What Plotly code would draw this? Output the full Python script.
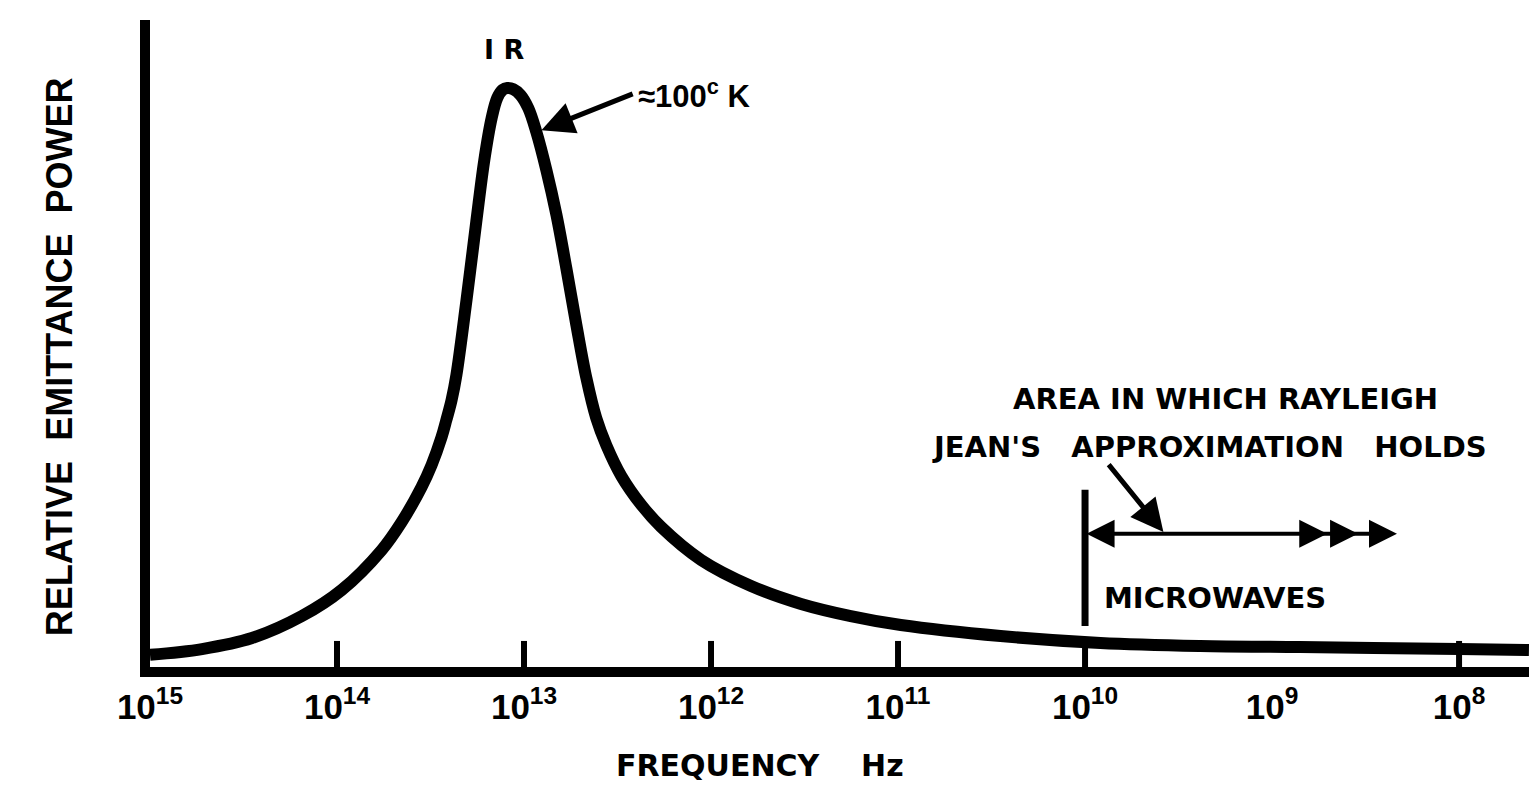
import plotly.graph_objects as go

# ---- data (frequency axis runs high -> low) ----
FREQ_HZ = [1.00e15, 5.27e14, 2.85e14, 1.54e14, 9.44e13, 5.77e13, 4.52e13, 3.53e13,
           3.12e13, 2.76e13, 2.60e13, 2.44e13, 2.30e13, 2.03e13, 1.80e13, 1.63e13,
           1.49e13, 1.39e13, 1.30e13, 1.23e13, 1.14e13, 1.045e13, 9.48e12, 8.59e12,
           7.59e12, 6.71e12, 5.94e12, 5.25e12, 4.64e12, 4.11e12, 3.63e12, 3.02e12,
           2.36e12, 1.85e12, 1.13e12, 6.11e11, 3.30e11, 1.79e11, 9.66e10, 2.83e10,
           8.27e9, 2.42e9, 7.07e8, 1.0e8, 4.23e7]
REL_POWER = [0.021, 0.031, 0.050, 0.088, 0.133, 0.202, 0.250, 0.311,
             0.349, 0.397, 0.427, 0.461, 0.504, 0.634, 0.769, 0.876,
             0.948, 0.983, 0.997, 1.000, 0.998, 0.988, 0.965, 0.924,
             0.858, 0.781, 0.689, 0.591, 0.499, 0.430, 0.383, 0.330,
             0.280, 0.242, 0.185, 0.140, 0.109, 0.088, 0.0725, 0.0535,
             0.0415, 0.0363, 0.0345, 0.0311, 0.0294]

TICK_VALS = [1e15, 1e14, 1e13, 1e12, 1e11, 1e10, 1e9, 1e8]
TICK_LABELS = ["10<sup>15</sup>", "10<sup>14</sup>", "10<sup>13</sup>", "10<sup>12</sup>",
               "10<sup>11</sup>", "10<sup>10</sup>", "10<sup>9</sup>", "10<sup>8</sup>"]
TICK_MARK_FREQS = [1e14, 1e13, 1e12, 1e11, 1e10, 1e8]
TICK_MARK_HEIGHT = 0.045

X_RANGE_LOG = [15.0, 7.626]
Y_RANGE = [0, 1.1175]

# Rayleigh-Jeans region markers
RJ_START_FREQ = 1e10
RJ_BAR_POWER = [0.071, 0.306]
RJ_ARROW_POWER = 0.230

FONT = "DejaVu Sans, Verdana, sans-serif"
FONT_NUM = "Liberation Sans, Arial, Helvetica, sans-serif"
BLACK = "#000000"

fig = go.Figure()

# blackbody curve
fig.add_trace(go.Scatter(
    x=FREQ_HZ, y=REL_POWER, mode="lines",
    line=dict(color=BLACK, width=12, shape="spline", smoothing=1.0),
    hoverinfo="skip", showlegend=False, cliponaxis=False))

# small decade tick bumps above the axis
tx, ty = [], []
for f in TICK_MARK_FREQS:
    tx += [f, f, None]
    ty += [0, TICK_MARK_HEIGHT, None]
fig.add_trace(go.Scatter(x=tx, y=ty, mode="lines",
                         line=dict(color=BLACK, width=6),
                         hoverinfo="skip", showlegend=False))

# vertical boundary at 10^10 Hz
fig.add_trace(go.Scatter(x=[RJ_START_FREQ, RJ_START_FREQ], y=RJ_BAR_POWER, mode="lines",
                         line=dict(color=BLACK, width=7),
                         hoverinfo="skip", showlegend=False))

annos = []
tfont = dict(family=FONT, size=29, color=BLACK, weight="bold")

annos.append(dict(x=13.105, y=1.066, xref="x", yref="y", text="I R", showarrow=False,
                  font=dict(family=FONT, size=27, color=BLACK, weight="bold")))
annos.append(dict(x=12.09, y=0.99, xref="x", yref="y", text="≈100<sup>c</sup> K",
                  showarrow=False, xanchor="center", yanchor="middle",
                  font=dict(family=FONT_NUM, size=31, color=BLACK, weight="bold")))
# arrow to the peak
annos.append(dict(x=12.907, y=0.927, ax=12.411, ay=0.991, xref="x", yref="y",
                  axref="x", ayref="y", text="", showarrow=True, arrowhead=2,
                  arrowwidth=5, arrowsize=1.3, arrowcolor=BLACK))

annos.append(dict(x=9.25, y=0.463, xref="x", yref="y", text="AREA IN WHICH RAYLEIGH",
                  showarrow=False, font=tfont))
annos.append(dict(x=9.335, y=0.380, xref="x", yref="y",
                  text="JEAN'S   APPROXIMATION   HOLDS", showarrow=False, font=tfont))
annos.append(dict(x=9.303, y=0.119, xref="x", yref="y", text="MICROWAVES",
                  showarrow=False, font=tfont))
# diagonal pointer
annos.append(dict(x=9.581, y=0.233, ax=9.880, ay=0.352, xref="x", yref="y",
                  axref="x", ayref="y", text="", showarrow=True, arrowhead=2,
                  arrowwidth=5, arrowsize=1.3, arrowcolor=BLACK))
# horizontal double arrow
annos.append(dict(x=8.332, y=RJ_ARROW_POWER, ax=10.0, ay=RJ_ARROW_POWER, xref="x", yref="y",
                  axref="x", ayref="y", text="", showarrow=True, arrowhead=2,
                  startarrowhead=2, arrowside="end+start",
                  arrowwidth=4, arrowsize=1.4, startarrowsize=1.4, arrowcolor=BLACK))
for tip in (8.705, 8.540):
    annos.append(dict(x=tip, y=RJ_ARROW_POWER, ax=tip + 0.1, ay=RJ_ARROW_POWER,
                      xref="x", yref="y", axref="x", ayref="y", text="", showarrow=True,
                      arrowhead=2, arrowwidth=4, arrowsize=1.4, arrowcolor=BLACK))

# axis titles
annos.append(dict(x=0.4424, y=-0.153, xref="paper", yref="paper", text="FREQUENCY    Hz",
                  showarrow=False, xanchor="center", yanchor="middle",
                  font=dict(family=FONT, size=30, color=BLACK, weight="bold")))
annos.append(dict(x=-0.0659, y=0.479, xref="paper", yref="paper",
                  text="RELATIVE  EMITTANCE  POWER", textangle=-90,
                  showarrow=False, xanchor="center", yanchor="middle",
                  font=dict(family=FONT_NUM, size=36, color=BLACK, weight="bold")))

fig.update_layout(
    width=1529, height=792,
    margin=dict(l=150, r=0, t=20, b=125),
    paper_bgcolor="white", plot_bgcolor="white",
    annotations=annos,
    xaxis=dict(type="log", range=X_RANGE_LOG, autorange=False,
               tickvals=TICK_VALS, ticktext=TICK_LABELS, ticks="",
               showgrid=False, zeroline=False, showline=True,
               linecolor=BLACK, linewidth=10,
               tickfont=dict(family=FONT_NUM, size=35, color=BLACK, weight="bold")),
    yaxis=dict(range=Y_RANGE, autorange=False, showticklabels=False, ticks="",
               showgrid=False, zeroline=False, showline=True,
               linecolor=BLACK, linewidth=10),
    showlegend=False,
)

fig.write_html("out.html")
